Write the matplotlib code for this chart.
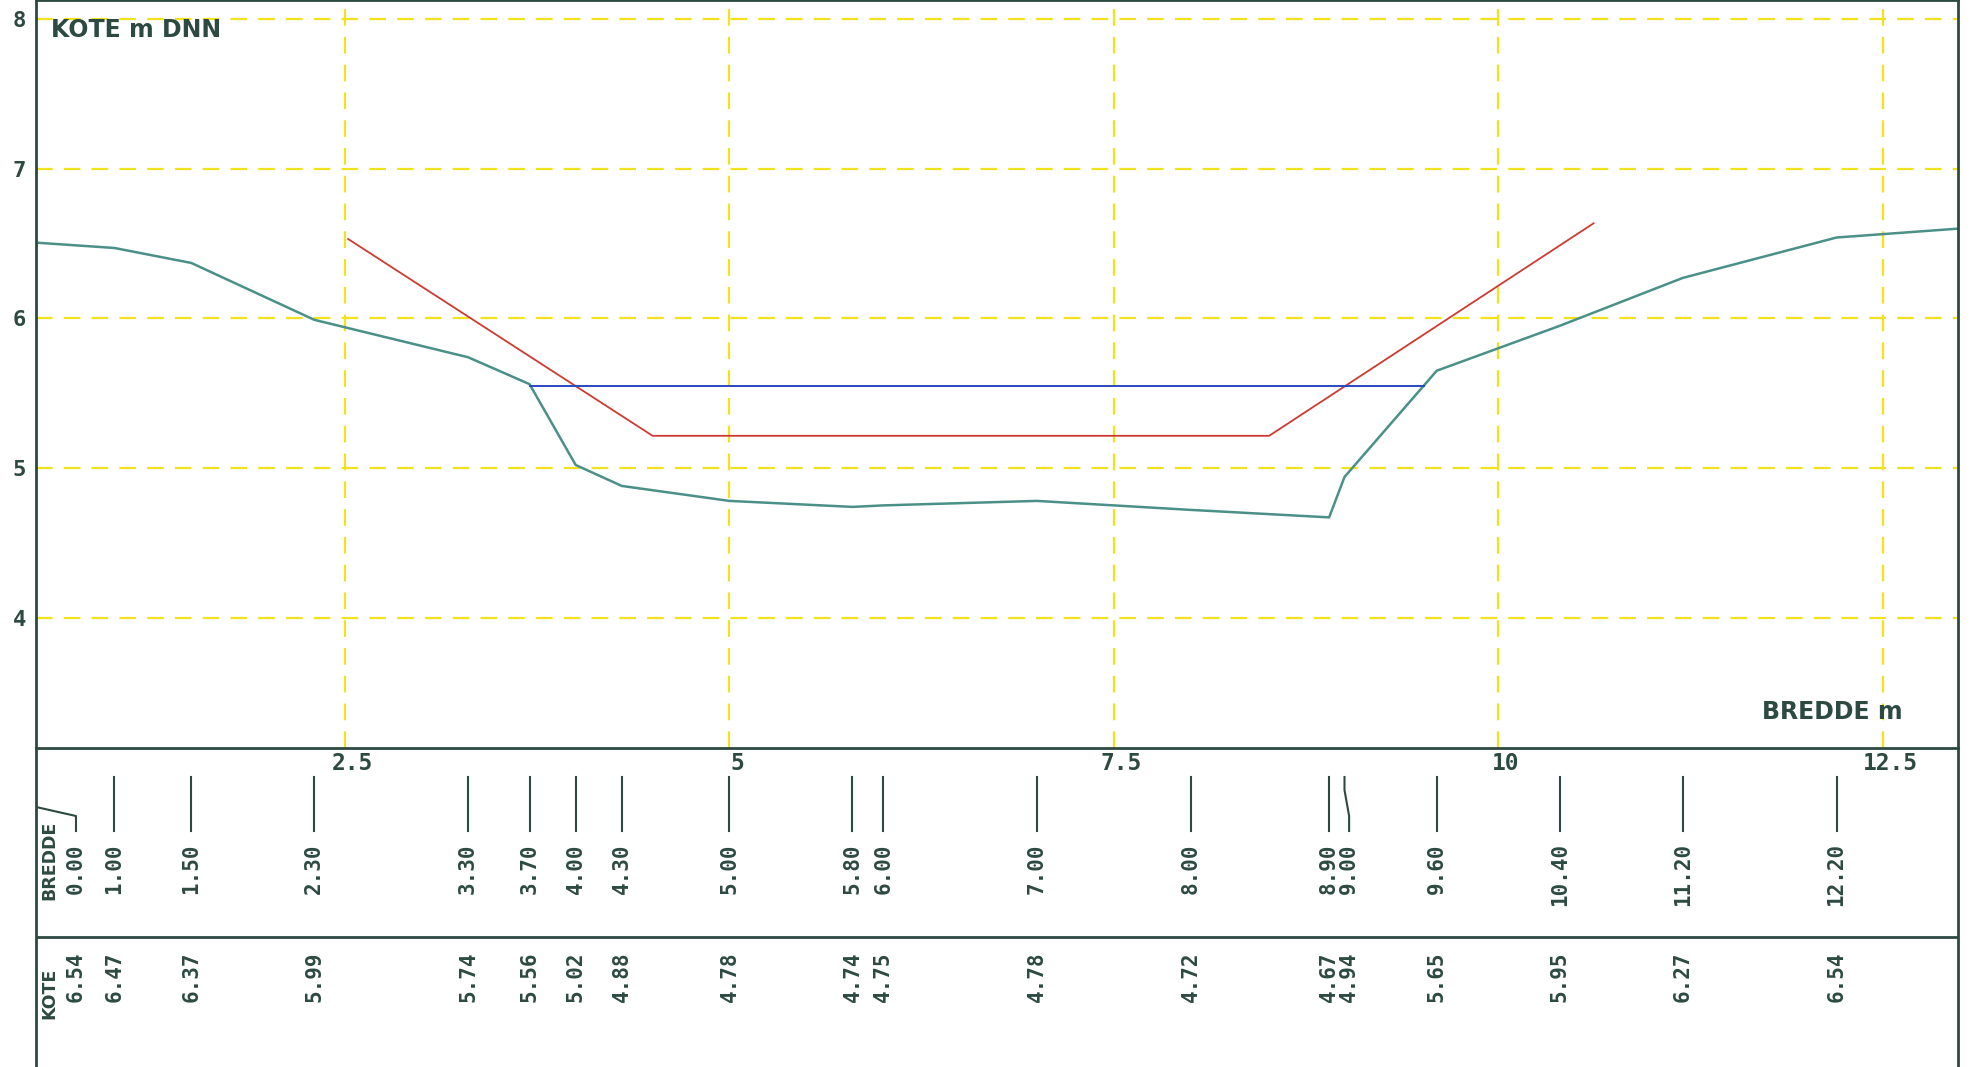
import numpy as np
import matplotlib.pyplot as plt

plt.rcParams["font.family"] = "DejaVu Sans Mono"
plt.rcParams["font.weight"] = "bold"

# stations and terrain levels (from the table under the plot)
bredde = [0.00, 1.00, 1.50, 2.30, 3.30, 3.70, 4.00, 4.30, 5.00, 5.80, 6.00,
          7.00, 8.00, 8.90, 9.00, 9.60, 10.40, 11.20, 12.20]
kote = [6.54, 6.47, 6.37, 5.99, 5.74, 5.56, 5.02, 4.88, 4.78, 4.74, 4.75,
        4.78, 4.72, 4.67, 4.94, 5.65, 5.95, 6.27, 6.54]
# terrain runs on past the last station up to the frame
rand_bredde = [13.0]
rand_kote = [6.60]

# planned trapezoid profile (red)
profil_x = [2.52, 4.50, 8.51, 10.62]
profil_z = [6.53, 5.215, 5.215, 6.635]

# water level (blue)
wasser_x = [3.70, 9.52]
wasser_z = [5.55, 5.55]

x_ticks = [2.5, 5, 7.5, 10, 12.5]
y_ticks = [4, 5, 6, 7, 8]

ink = "#2d4a42"
teal = "#4a9088"
red = "#cc3b32"
blue = "#2c46c0"
yellow = "#f2e21c"

W, H = 1972, 1067
x_left, x_right = 0.49, 12.99

fig = plt.figure(figsize=(W / 100, H / 100), dpi=100)
fig.patch.set_facecolor("white")

# main profile plot
ax = fig.add_axes([36 / W, (H - 748) / H, (1958 - 36) / W, 748 / H])
ax.set_xlim(x_left, x_right)
ax.set_ylim(3.129, 8.127)
ax.set_xticks(x_ticks)
ax.set_yticks(y_ticks)
ax.set_yticklabels([f"{t}" for t in y_ticks])
ax.tick_params(axis="x", length=0, labelbottom=False)
ax.tick_params(axis="y", length=0, pad=7, labelsize=16, labelcolor=ink)
ax.grid(True, color=yellow, lw=1.6, linestyle=(0, (7.5, 5.0)))
ax.set_axisbelow(True)
for s in ax.spines.values():
    s.set_color(ink)
    s.set_linewidth(2)

ax.plot(bredde + rand_bredde, kote + rand_kote, color=teal, lw=1.8)
ax.plot(profil_x, profil_z, color=red, lw=1.3)
ax.plot(wasser_x, wasser_z, color=blue, lw=1.4)

ax.text(0.585, 8.01, "KOTE m DNN", ha="left", va="top", fontsize=17,
        family="DejaVu Sans", weight="bold", color=ink)
ax.text(12.63, 3.322, "BREDDE m", ha="right", va="baseline", fontsize=17,
        family="DejaVu Sans", weight="bold", color=ink)

# table below the plot, y in pixel rows
tab = fig.add_axes([36 / W, 0, (1958 - 36) / W, (H - 748) / H])
tab.set_xlim(x_left, x_right)
tab.set_ylim(H, 748)
tab.set_xticks([])
tab.set_yticks([])
tab.patch.set_alpha(0)
for side in ["top", "bottom"]:
    tab.spines[side].set_visible(False)
for side in ["left", "right"]:
    tab.spines[side].set_color(ink)
    tab.spines[side].set_linewidth(2)
tab.axhline(937, color=ink, lw=2)

for t in x_ticks:
    tab.text(t + 0.05, 752, f"{t:g}", ha="center", va="top", fontsize=16.5, color=ink)

# shift crowded / clipped labels a little to the right
lab_x = []
prev = -np.inf
for b in bredde:
    p = max(b, prev + 0.13, x_left + 0.26)
    lab_x.append(p)
    prev = p

for b, k, p in zip(bredde, kote, lab_x):
    tab.plot([b, b, p, p], [777, 790, 816, 831], color=ink, lw=1.5)
    tab.text(p, 843, f"{b:.2f}", rotation=90, ha="center", va="top",
             fontsize=15, color=ink)
    tab.text(p, 951, f"{k:.2f}", rotation=90, ha="center", va="top",
             fontsize=15, color=ink)

tab.text(0.579, 900, "BREDDE", rotation=90, ha="center", va="bottom",
         fontsize=12.5, family="DejaVu Sans", weight="bold", color=ink)
tab.text(0.579, 1019, "KOTE", rotation=90, ha="center", va="bottom",
         fontsize=12.5, family="DejaVu Sans", weight="bold", color=ink)

fig.savefig("out.png", dpi=100)
